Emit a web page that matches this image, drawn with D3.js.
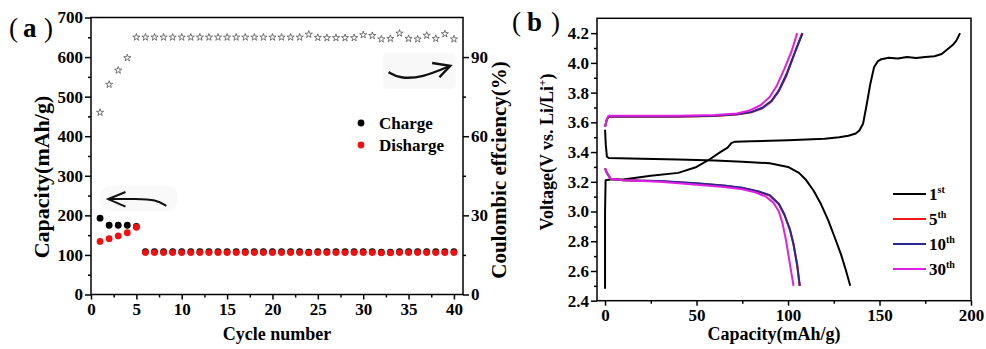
<!DOCTYPE html>
<html>
<head>
<meta charset="utf-8">
<script src="https://cdn.jsdelivr.net/npm/d3@7"></script>
<style>
  body { margin: 0; background: #fff; }
  text { font-family: "Liberation Serif", "Times New Roman", serif; font-weight: bold; fill: #000; }
</style>
</head>
<body>
<script>
// ---- panel (a) data: cycling ----
const cycles = [1,2,3,4,5,6,7,8,9,10,11,12,13,14,15,16,17,18,19,20,
                21,22,23,24,25,26,27,28,29,30,31,32,33,34,35,36,37,38,39,40];
const chargeCap = [193,175,175,175,172,108,108,108,108,108,108,108,108,108,108,108,108,108,108,108,
                   108,108,108,107,108,108,108,108,108,108,108,107,107,108,108,108,108,108,108,108];
const dischargeCap = [134,141,148,156,170,106,106,106,106,106,106,106,106,106,106,106,106,106,106,106,
                      106,106,106,105,106,106,106,106,106,106,106,105,105,106,106,106,106,106,106,106];
const coulombic = [69,79.6,85,89.7,97.5,97.5,97.5,97.5,97.5,97.5,97.5,97.5,97.5,97.5,97.5,97.5,97.5,97.5,97.5,97.5,
                   97.5,97.5,97.5,98.6,97.4,97.3,97.3,97.3,97.3,98.4,98.1,96.8,97,99,97,96.8,98.2,97,98.8,96.8];
const capTicks = [0,100,200,300,400,500,600,700];
const ceTicks = [0,30,60,90];
const cycleTicks = [0,5,10,15,20,25,30,35,40];

// ---- panel (b) data: voltage profiles [capacity, voltage] ----
const cycle1Charge = [[0,2.48],[0,3.0],[0.3,3.21],[3,3.215],[10,3.215],[25,3.24],[40,3.26],[50,3.3],[57,3.35],
  [63,3.4],[67,3.43],[69,3.46],[71,3.47],[80,3.473],[90,3.476],[100,3.48],[110,3.485],[120,3.49],[128,3.5],
  [133,3.51],[137,3.525],[139,3.545],[141,3.59],[143,3.72],[145,3.86],[147,3.97],[149,4.01],[151,4.025],
  [155,4.035],[160,4.03],[165,4.04],[170,4.033],[175,4.04],[180,4.045],[184,4.06],[187,4.09],[190,4.12],
  [192,4.15],[194,4.2]];
const cycle1Discharge = [[0,3.55],[0.4,3.45],[1,3.37],[2,3.36],[20,3.355],[40,3.35],[60,3.343],[75,3.335],
  [90,3.325],[100,3.3],[106,3.26],[110,3.21],[114,3.14],[118,3.05],[122,2.94],[126,2.81],[129,2.71],
  [131.5,2.61],[134,2.5]];
const cycle5Charge = [[0,3.57],[1,3.62],[2,3.638],[10,3.638],[40,3.638],[60,3.643],[72,3.652],[80,3.668],
  [86,3.695],[91,3.74],[95,3.81],[99,3.91],[103.5,4.06],[107.7,4.2]];
const cycle5Discharge = [[0,3.29],[1,3.26],[3,3.22],[10,3.21],[30,3.203],[50,3.188],[65,3.173],[75,3.158],
  [84,3.133],[90,3.108],[95,3.05],[98,2.98],[101,2.88],[103,2.78],[105,2.64],[106.3,2.5]];
const cycle10Charge = [[0,3.57],[1,3.62],[2,3.64],[10,3.64],[40,3.64],[60,3.645],[72,3.654],[80,3.67],
  [86,3.698],[91,3.745],[95,3.815],[99,3.92],[104,4.08],[108,4.2]];
const cycle10Discharge = [[0,3.29],[1,3.26],[3,3.22],[10,3.21],[30,3.205],[50,3.19],[65,3.175],[75,3.16],
  [84,3.135],[90,3.11],[95,3.05],[98,2.98],[101,2.88],[103,2.78],[105,2.64],[106.5,2.5]];
const cycle30Charge = [[0,3.57],[1,3.62],[2,3.645],[10,3.645],[40,3.645],[60,3.65],[72,3.66],[79,3.68],
  [85,3.715],[90,3.77],[94,3.85],[98,3.96],[102,4.08],[105,4.2]];
const cycle30Discharge = [[0,3.29],[1,3.26],[3,3.22],[10,3.21],[30,3.2],[50,3.18],[65,3.165],[75,3.15],
  [82,3.13],[88,3.1],[92,3.06],[95,3.0],[97,2.92],[99,2.8],[101,2.65],[103,2.5]];
const seriesNames = ["1", "5", "10", "30"];
const seriesSup = ["st", "th", "th", "th"];
const seriesColors = ["#000000", "#f01818", "#2a2890", "#e020e0"];
const voltTicks = [2.4,2.6,2.8,3.0,3.2,3.4,3.6,3.8,4.0,4.2];
const capBTicks = [0,50,100,150,200];

const svg = d3.select("body").append("svg")
    .attr("width", 986)
    .attr("height", 349);

function styleAxis(g, size) {
    g.select(".domain").remove();
    g.selectAll("line").attr("stroke", "#000").attr("stroke-width", 1.5);
    g.selectAll("text").style("font-size", size + "px");
}

// ================= panel (a) =================
const xa = d3.scaleLinear().domain([0, 41]).range([91, 463]);
const ya = d3.scaleLinear().domain([0, 700]).range([294.5, 17.5]);
const ya2 = d3.scaleLinear().domain([0, 105]).range([294.5, 17.5]);

// faint grey backgrounds behind the pasted arrows
svg.append("rect").attr("x", xa(32.2)).attr("y", ya(610)).attr("width", xa(40.2) - xa(32.2))
    .attr("height", ya(520) - ya(610)).attr("rx", 4).attr("fill", "#f8f8f8");
svg.append("rect").attr("x", xa(1)).attr("y", ya(275)).attr("width", xa(9.5) - xa(1))
    .attr("height", ya(210) - ya(275)).attr("rx", 10).attr("fill", "#f9f9f9");

svg.append("g").attr("transform", "translate(0,294.5)")
    .call(d3.axisBottom(xa).tickValues(cycleTicks).tickSize(5).tickPadding(3))
    .call(g => styleAxis(g, 17));
svg.append("g").attr("transform", "translate(0,294.5)")
    .call(d3.axisBottom(xa).tickValues(d3.range(2.5, 41, 5)).tickSize(3).tickFormat(""))
    .call(g => styleAxis(g, 17));
svg.append("g").attr("transform", "translate(91,0)")
    .call(d3.axisLeft(ya).tickValues(capTicks).tickSize(6).tickPadding(2))
    .call(g => styleAxis(g, 17));
svg.append("g").attr("transform", "translate(91,0)")
    .call(d3.axisLeft(ya).tickValues(d3.range(50, 700, 100)).tickSize(3).tickFormat(""))
    .call(g => styleAxis(g, 17));
svg.append("g").attr("transform", "translate(463,0)")
    .call(d3.axisRight(ya2).tickValues(ceTicks).tickSize(6).tickPadding(2))
    .call(g => styleAxis(g, 17));
svg.append("g").attr("transform", "translate(463,0)")
    .call(d3.axisRight(ya2).tickValues([15, 45, 75]).tickSize(3).tickFormat(""))
    .call(g => styleAxis(g, 17));

svg.append("rect")
    .attr("x", 91).attr("y", 17.5).attr("width", 463 - 91).attr("height", 294.5 - 17.5)
    .attr("fill", "none").attr("stroke", "#000").attr("stroke-width", 1.5);

// coulombic efficiency stars
svg.append("g").selectAll("path")
    .data(cycles)
    .join("path")
    .attr("d", d3.symbol(d3.symbolStar, 16))
    .attr("transform", (c, i) => `translate(${xa(c)},${ya2(coulombic[i])})`)
    .attr("fill", "#fff")
    .attr("stroke", "#555")
    .attr("stroke-width", 0.8);

// charge / discharge dots
svg.append("g").selectAll("circle")
    .data(cycles)
    .join("circle")
    .attr("cx", c => xa(c))
    .attr("cy", (c, i) => ya(chargeCap[i]))
    .attr("r", 3.4)
    .attr("fill", "#000");
svg.append("g").selectAll("circle")
    .data(cycles)
    .join("circle")
    .attr("cx", c => xa(c))
    .attr("cy", (c, i) => ya(dischargeCap[i]))
    .attr("r", 3.4)
    .attr("fill", "#f01010");

// legend (a)
[["Charge", "#000"], ["Disharge", "#f01010"]].forEach((d, i) => {
    svg.append("circle").attr("cx", 361).attr("cy", 123 + i * 22).attr("r", 3.4).attr("fill", d[1]);
    svg.append("text").attr("x", 379).attr("y", 129 + i * 22).style("font-size", "17px").text(d[0]);
});

// curved arrows
const arrowLine = d3.line().curve(d3.curveBasis);
const leftArrow = [[8.3, 224], [7.2, 240], [5, 242], [1.9, 241]];
svg.append("path").attr("d", arrowLine(leftArrow.map(p => [xa(p[0]), ya(p[1])])))
    .attr("fill", "none").attr("stroke", "#111").attr("stroke-width", 2);
svg.append("path").attr("d", d3.line()([[xa(3.8), ya(259)], [xa(1.9), ya(241)], [xa(3.8), ya(222)]]))
    .attr("fill", "none").attr("stroke", "#111").attr("stroke-width", 2);
const rightArrow = [[32.8, 562], [34, 546], [36.5, 548], [39.6, 578]];
svg.append("path").attr("d", arrowLine(rightArrow.map(p => [xa(p[0]), ya(p[1])])))
    .attr("fill", "none").attr("stroke", "#111").attr("stroke-width", 2.4);
svg.append("path").attr("d", d3.line()([[xa(37.6), ya(585)], [xa(39.6), ya(578)], [xa(38.4), ya(549)]]))
    .attr("fill", "none").attr("stroke", "#111").attr("stroke-width", 2.4);

// labels (a)
svg.append("text").attr("transform", "translate(49,177) rotate(-90)")
    .attr("text-anchor", "middle").style("font-size", "22px").text("Capacity(mAh/g)");
svg.append("text").attr("transform", "translate(506,170) rotate(-90)")
    .attr("text-anchor", "middle").style("font-size", "21px").text("Coulombic effciency(%)");
svg.append("text").attr("x", 277).attr("y", 340)
    .attr("text-anchor", "middle").style("font-size", "18px").text("Cycle number");
const la = svg.append("text").attr("y", 37).style("font-size", "27px");
la.append("tspan").attr("x", 9).style("font-weight", "normal").text("(");
la.append("tspan").attr("x", 23).text("a");
la.append("tspan").attr("x", 44).style("font-weight", "normal").text(")");

// ================= panel (b) =================
const xb = d3.scaleLinear().domain([-4.4, 200]).range([597, 971]);
const yb = d3.scaleLinear().domain([2.4, 4.3]).range([300.7, 18.3]);

svg.append("g").attr("transform", "translate(0,300.7)")
    .call(d3.axisBottom(xb).tickValues(capBTicks).tickSize(5).tickPadding(3))
    .call(g => styleAxis(g, 17));
svg.append("g").attr("transform", "translate(0,300.7)")
    .call(d3.axisBottom(xb).tickValues([25, 75, 125, 175]).tickSize(3).tickFormat(""))
    .call(g => styleAxis(g, 17));
svg.append("g").attr("transform", "translate(597,0)")
    .call(d3.axisLeft(yb).tickValues(voltTicks).tickSize(6).tickPadding(2).tickFormat(d3.format(".1f")))
    .call(g => styleAxis(g, 17));
svg.append("g").attr("transform", "translate(597,0)")
    .call(d3.axisLeft(yb).tickValues([2.5, 2.7, 2.9, 3.1, 3.3, 3.5, 3.7, 3.9, 4.1]).tickSize(3).tickFormat(""))
    .call(g => styleAxis(g, 17));

svg.append("rect")
    .attr("x", 597).attr("y", 18.3).attr("width", 971 - 597).attr("height", 300.7 - 18.3)
    .attr("fill", "none").attr("stroke", "#000").attr("stroke-width", 1.5);

const vline = d3.line().x(d => xb(d[0])).y(d => yb(d[1]));
const curves = [
    [cycle1Charge, 0], [cycle1Discharge, 0],
    [cycle5Charge, 1], [cycle5Discharge, 1],
    [cycle10Charge, 2], [cycle10Discharge, 2],
    [cycle30Charge, 3], [cycle30Discharge, 3]
];
svg.append("g").selectAll("path")
    .data(curves)
    .join("path")
    .attr("d", d => vline(d[0]))
    .attr("fill", "none")
    .attr("stroke", d => seriesColors[d[1]])
    .attr("stroke-width", 2)
    .attr("stroke-linejoin", "round");

// legend (b)
seriesNames.forEach((n, i) => {
    const y0 = 194 + i * 25;
    svg.append("line").attr("x1", 893).attr("x2", 926).attr("y1", y0).attr("y2", y0)
        .attr("stroke", seriesColors[i]).attr("stroke-width", 2);
    const t = svg.append("text").attr("x", 929).attr("y", y0 + 6).style("font-size", "17px");
    t.append("tspan").text(n);
    t.append("tspan").attr("dy", -7).style("font-size", "10px").text(seriesSup[i]);
});

// labels (b)
const vl = svg.append("text").attr("transform", "translate(553,152) rotate(-90)")
    .attr("text-anchor", "middle").style("font-size", "18px");
vl.append("tspan").text("Voltage(V vs. Li/Li");
vl.append("tspan").attr("dy", -7).style("font-size", "11px").text("+");
vl.append("tspan").attr("dy", 7).text(")");
svg.append("text").attr("x", 774).attr("y", 340)
    .attr("text-anchor", "middle").style("font-size", "18px").text("Capacity(mAh/g)");
const lb = svg.append("text").attr("y", 31).style("font-size", "27px");
lb.append("tspan").attr("x", 512).style("font-weight", "normal").text("(");
lb.append("tspan").attr("x", 527).text("b");
lb.append("tspan").attr("x", 551).style("font-weight", "normal").text(")");
</script>
</body>
</html>
